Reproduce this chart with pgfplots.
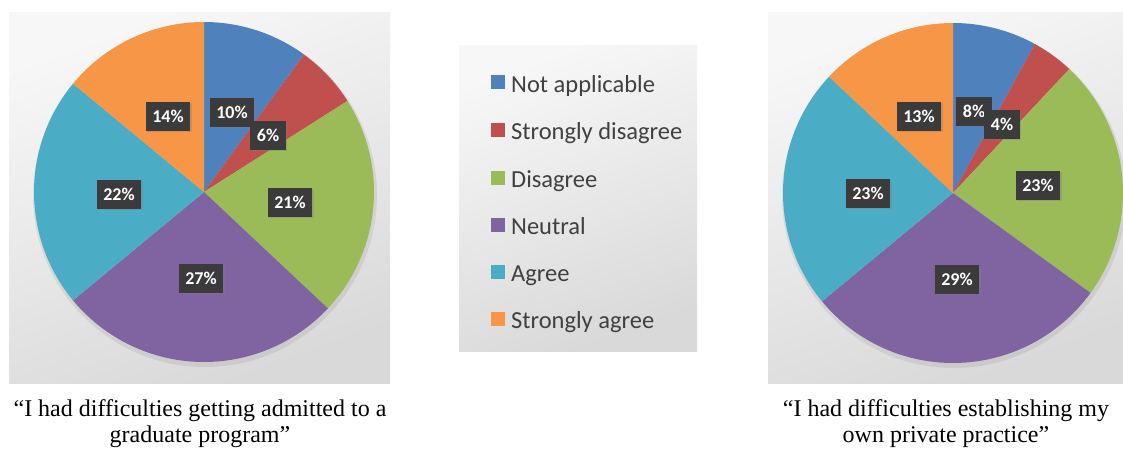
\documentclass[border=0pt]{standalone}
\usepackage{pgfplots}
\pgfplotsset{compat=1.18}
\usepackage{fontspec}
\setmainfont{Liberation Serif}
\newfontfamily\calfont{Carlito}
\usetikzlibrary{shadows}
\definecolor{cA}{HTML}{4F81BD}
\definecolor{cB}{HTML}{C0504D}
\definecolor{cC}{HTML}{9BBB59}
\definecolor{cD}{HTML}{8064A2}
\definecolor{cE}{HTML}{4BACC6}
\definecolor{cF}{HTML}{F79646}
\definecolor{lab}{HTML}{3B3B3B}
\definecolor{legtext}{HTML}{404040}
\definecolor{bgtop}{HTML}{F7F7F7}
\definecolor{bgbot}{HTML}{D9D9D9}
% percentages (left: admitted to graduate program; right: private practice)
% order: Not applicable, Strongly disagree, Disagree, Neutral, Agree, Strongly agree
\def\La{10}\def\Lb{6}\def\Lc{21}\def\Ld{27}\def\Le{22}\def\Lf{14}
\def\Ra{8}\def\Rb{4}\def\Rc{23}\def\Rd{29}\def\Re{23}\def\Rf{13}
\tikzset{pct/.style={fill=lab, text=white, font=\calfont\bfseries\fontsize{18}{20}\selectfont,
  inner xsep=6.5pt, inner ysep=8pt, text height=13pt, text depth=0pt,
  drop shadow={shadow xshift=1.5pt, shadow yshift=-1.5pt, opacity=0.35}}}
\begin{document}
\begin{tikzpicture}
\begin{axis}[width=1123pt,height=448pt,scale only axis,
  xmin=0,xmax=1123,ymin=0,ymax=448,y dir=reverse,hide axis,clip=false]
% backgrounds
\shade[top color=bgtop, bottom color=bgbot, shading angle=20] (axis cs:9,12) rectangle (axis cs:390,383);
\shade[top color=bgtop, bottom color=bgbot, shading angle=20] (axis cs:768,12) rectangle (axis cs:1123,383);
\shade[top color=bgtop, bottom color=bgbot, shading angle=20] (axis cs:459,45) rectangle (axis cs:697,351);
\fill[black,opacity=0.07] (axis cs:205,195) circle[radius=172pt];
\fill[black,opacity=0.07] (axis cs:954,196) circle[radius=172pt];
% ---- left pie
\pgfplotsset{pieL/.style={draw=none, samples=60}}
\addplot[pieL, fill=cA, domain={0}:{3.6*(\La)}] ({204+170*sin(x)},{192-170*cos(x)}) -- (axis cs:204,192) -- cycle;
\addplot[pieL, fill=cB, domain={3.6*(\La)}:{3.6*(\La+\Lb)}] ({204+170*sin(x)},{192-170*cos(x)}) -- (axis cs:204,192) -- cycle;
\addplot[pieL, fill=cC, domain={3.6*(\La+\Lb)}:{3.6*(\La+\Lb+\Lc)}] ({204+170*sin(x)},{192-170*cos(x)}) -- (axis cs:204,192) -- cycle;
\addplot[pieL, fill=cD, domain={3.6*(\La+\Lb+\Lc)}:{3.6*(\La+\Lb+\Lc+\Ld)}] ({204+170*sin(x)},{192-170*cos(x)}) -- (axis cs:204,192) -- cycle;
\addplot[pieL, fill=cE, domain={3.6*(\La+\Lb+\Lc+\Ld)}:{3.6*(\La+\Lb+\Lc+\Ld+\Le)}] ({204+170*sin(x)},{192-170*cos(x)}) -- (axis cs:204,192) -- cycle;
\addplot[pieL, fill=cF, domain={3.6*(\La+\Lb+\Lc+\Ld+\Le)}:{3.6*(\La+\Lb+\Lc+\Ld+\Le+\Lf)}] ({204+170*sin(x)},{192-170*cos(x)}) -- (axis cs:204,192) -- cycle;
% ---- right pie
\addplot[pieL, fill=cA, domain={0}:{3.6*(\Ra)}] ({953+170*sin(x)},{193-170*cos(x)}) -- (axis cs:953,193) -- cycle;
\addplot[pieL, fill=cB, domain={3.6*(\Ra)}:{3.6*(\Ra+\Rb)}] ({953+170*sin(x)},{193-170*cos(x)}) -- (axis cs:953,193) -- cycle;
\addplot[pieL, fill=cC, domain={3.6*(\Ra+\Rb)}:{3.6*(\Ra+\Rb+\Rc)}] ({953+170*sin(x)},{193-170*cos(x)}) -- (axis cs:953,193) -- cycle;
\addplot[pieL, fill=cD, domain={3.6*(\Ra+\Rb+\Rc)}:{3.6*(\Ra+\Rb+\Rc+\Rd)}] ({953+170*sin(x)},{193-170*cos(x)}) -- (axis cs:953,193) -- cycle;
\addplot[pieL, fill=cE, domain={3.6*(\Ra+\Rb+\Rc+\Rd)}:{3.6*(\Ra+\Rb+\Rc+\Rd+\Re)}] ({953+170*sin(x)},{193-170*cos(x)}) -- (axis cs:953,193) -- cycle;
\addplot[pieL, fill=cF, domain={3.6*(\Ra+\Rb+\Rc+\Rd+\Re)}:{3.6*(\Ra+\Rb+\Rc+\Rd+\Re+\Rf)}] ({953+170*sin(x)},{193-170*cos(x)}) -- (axis cs:953,193) -- cycle;
% ---- data labels
\node[pct] at (axis cs:232,112) {\La\%};
\node[pct] at (axis cs:268,135) {\Lb\%};
\node[pct] at (axis cs:290,202) {\Lc\%};
\node[pct] at (axis cs:201,278) {\Ld\%};
\node[pct] at (axis cs:119,194) {\Le\%};
\node[pct] at (axis cs:168,116) {\Lf\%};
\node[pct] at (axis cs:974,111) {\Ra\%};
\node[pct] at (axis cs:1002,124) {\Rb\%};
\node[pct] at (axis cs:1038,185) {\Rc\%};
\node[pct] at (axis cs:957,279) {\Rd\%};
\node[pct] at (axis cs:868,193) {\Re\%};
\node[pct] at (axis cs:919,116) {\Rf\%};
% ---- legend
\fill[cA] (axis cs:491,75) rectangle (axis cs:505,89);
\fill[cB] (axis cs:491,123) rectangle (axis cs:505,137);
\fill[cC] (axis cs:491,170.5) rectangle (axis cs:505,184.5);
\fill[cD] (axis cs:491,217.5) rectangle (axis cs:505,231.5);
\fill[cE] (axis cs:491,264.5) rectangle (axis cs:505,278.5);
\fill[cF] (axis cs:491,312) rectangle (axis cs:505,326);
\begin{scope}[every node/.style={anchor=base west, inner sep=0pt, text=legtext, font=\calfont\fontsize{24.5}{27}\selectfont}]
\node at (axis cs:511,92) {Not applicable};
\node at (axis cs:511,139.5) {Strongly disagree};
\node at (axis cs:511,187) {Disagree};
\node at (axis cs:511,234) {Neutral};
\node at (axis cs:511,281) {Agree};
\node at (axis cs:511,328.5) {Strongly agree};
\end{scope}
% ---- captions
\begin{scope}[every node/.style={anchor=base, inner sep=0pt, font=\fontsize{24}{26}\selectfont}]
\node at (axis cs:200,416) {“I had difficulties getting admitted to a};
\node at (axis cs:200,442) {graduate program”};
\node at (axis cs:946,416) {“I had difficulties establishing my};
\node at (axis cs:946,442) {own private practice”};
\end{scope}
\end{axis}
\pgfresetboundingbox
\path (current axis.south west) rectangle (current axis.north east);
\end{tikzpicture}
\end{document}
